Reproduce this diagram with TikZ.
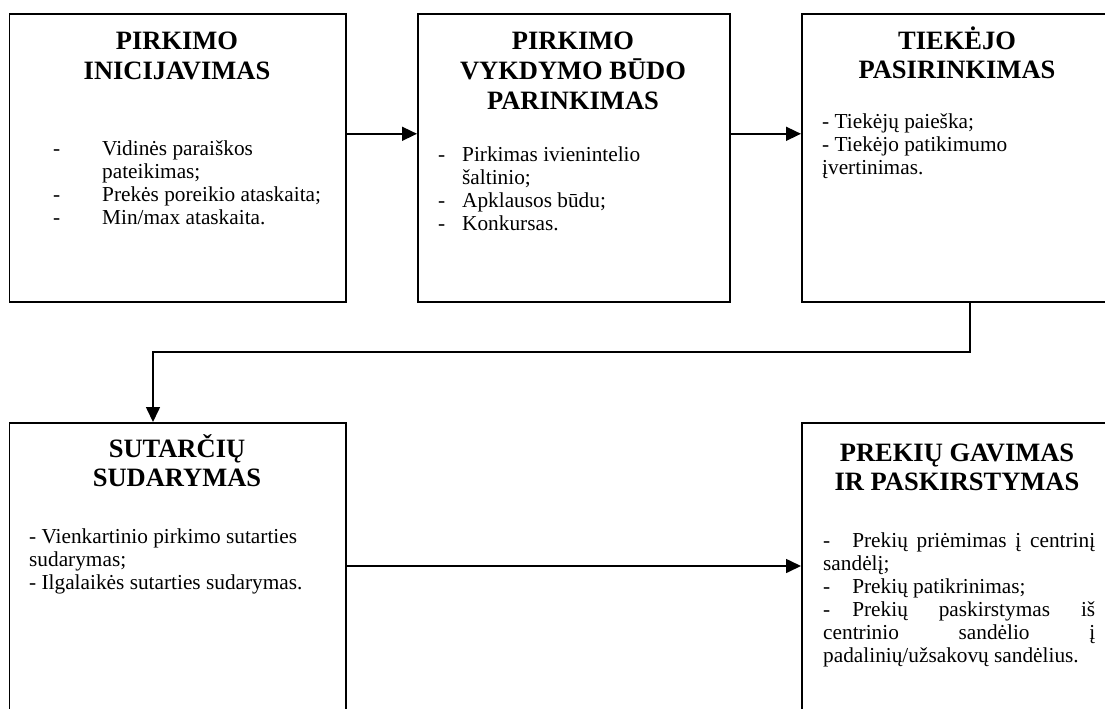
\documentclass[tikz,border=0pt]{standalone}
\usepackage{fontspec}
\setmainfont{Liberation Serif}
\usetikzlibrary{arrows.meta}

\newcommand{\ttlfont}{\fontsize{26.5}{29.5}\selectfont\bfseries}
\newcommand{\bodyfont}{\fontsize{21.3}{23}\selectfont}

\tikzset{
  stage/.style={draw, line width=1.6pt, inner sep=0pt, anchor=north west},
  ttl/.style={inner sep=0pt, anchor=base, font=\ttlfont},
  body/.style={inner sep=0pt, anchor=base west, font=\bodyfont},
  flow/.style={line width=1.6pt, -{Triangle[length=15pt,width=14pt]}},
}

\begin{document}
\begin{tikzpicture}[x=1pt, y=-1pt]
  \useasboundingbox (0,0) rectangle (1105,709);
  \clip (0,0) rectangle (1105,709);

  % stage boxes
  \node[stage, minimum width=336.5pt, minimum height=288pt] (b1) at (8.5,13) {};
  \node[stage, minimum width=312pt, minimum height=288pt] (b2) at (417,13) {};
  \node[stage, minimum width=312pt, minimum height=288pt] (b3) at (801,13) {};
  \node[stage, minimum width=336.5pt, minimum height=300pt] (b4) at (8.5,422) {};
  \node[stage, minimum width=312pt, minimum height=300pt] (b5) at (801,422) {};

  % titles
  \node[ttl] (t1) at (177,50) {\begin{tabular}[t]{@{}c@{}}PIRKIMO\\INICIJAVIMAS\end{tabular}};
  \node[ttl] (t2) at (573,50) {\begin{tabular}[t]{@{}c@{}}PIRKIMO\\VYKDYMO BŪDO\\PARINKIMAS\end{tabular}};
  \node[ttl] (t3) at (957,49) {\begin{tabular}[t]{@{}c@{}}TIEKĖJO\\PASIRINKIMAS\end{tabular}};
  \node[ttl] (t4) at (177,457) {\begin{tabular}[t]{@{}c@{}}SUTARČIŲ\\SUDARYMAS\end{tabular}};
  \node[ttl] (t5) at (957,461) {\begin{tabular}[t]{@{}c@{}}PREKIŲ GAVIMAS\\IR PASKIRSTYMAS\end{tabular}};

  % item lists
  \node[body] (l1) at (53,155) {\begin{tabular}[t]{@{}p{49pt}@{}l@{}}
    - & Vidinės paraiškos\\
      & pateikimas;\\
    - & Prekės poreikio ataskaita;\\
    - & Min/max ataskaita.
  \end{tabular}};
  \node[body] (l2) at (438,161) {\begin{tabular}[t]{@{}p{24pt}@{}l@{}}
    - & Pirkimas ivienintelio\\
      & šaltinio;\\
    - & Apklausos būdu;\\
    - & Konkursas.
  \end{tabular}};
  \node[body] (l3) at (822,128) {\begin{tabular}[t]{@{}l@{}}
    - Tiekėjų paieška;\\
    - Tiekėjo patikimumo\\
    įvertinimas.
  \end{tabular}};
  \node[body] (l4) at (29,543) {\begin{tabular}[t]{@{}l@{}}
    - Vienkartinio pirkimo sutarties\\
    sudarymas;\\
    - Ilgalaikės sutarties sudarymas.
  \end{tabular}};
  \node[body] (l5) at (823,547) {\begin{tabular}[t]{@{}l@{}}
    \makebox[272pt][s]{-\hskip 22pt Prekių priėmimas į centrinį}\\
    sandėlį;\\
    -\hskip 22pt Prekių patikrinimas;\\
    \makebox[272pt][s]{-\hskip 22pt Prekių paskirstymas iš}\\
    \makebox[272pt][s]{centrinio sandėlio į}\\
    padalinių/užsakovų sandėlius.
  \end{tabular}};

  % connectors
  \coordinate (k1) at (153,352);
  \draw[flow] ([yshift=24pt]b1.east) -- ([yshift=24pt]b2.west);
  \draw[flow] ([yshift=24pt]b2.east) -- ([yshift=24pt]b3.west);
  \draw[flow] ([xshift=12pt]b3.south) |- (k1) -- (k1 |- b4.north);
  \draw[flow] ([yshift=-144pt]b4.north east) -- ([yshift=-144pt]b5.north west);
\end{tikzpicture}
\end{document}
